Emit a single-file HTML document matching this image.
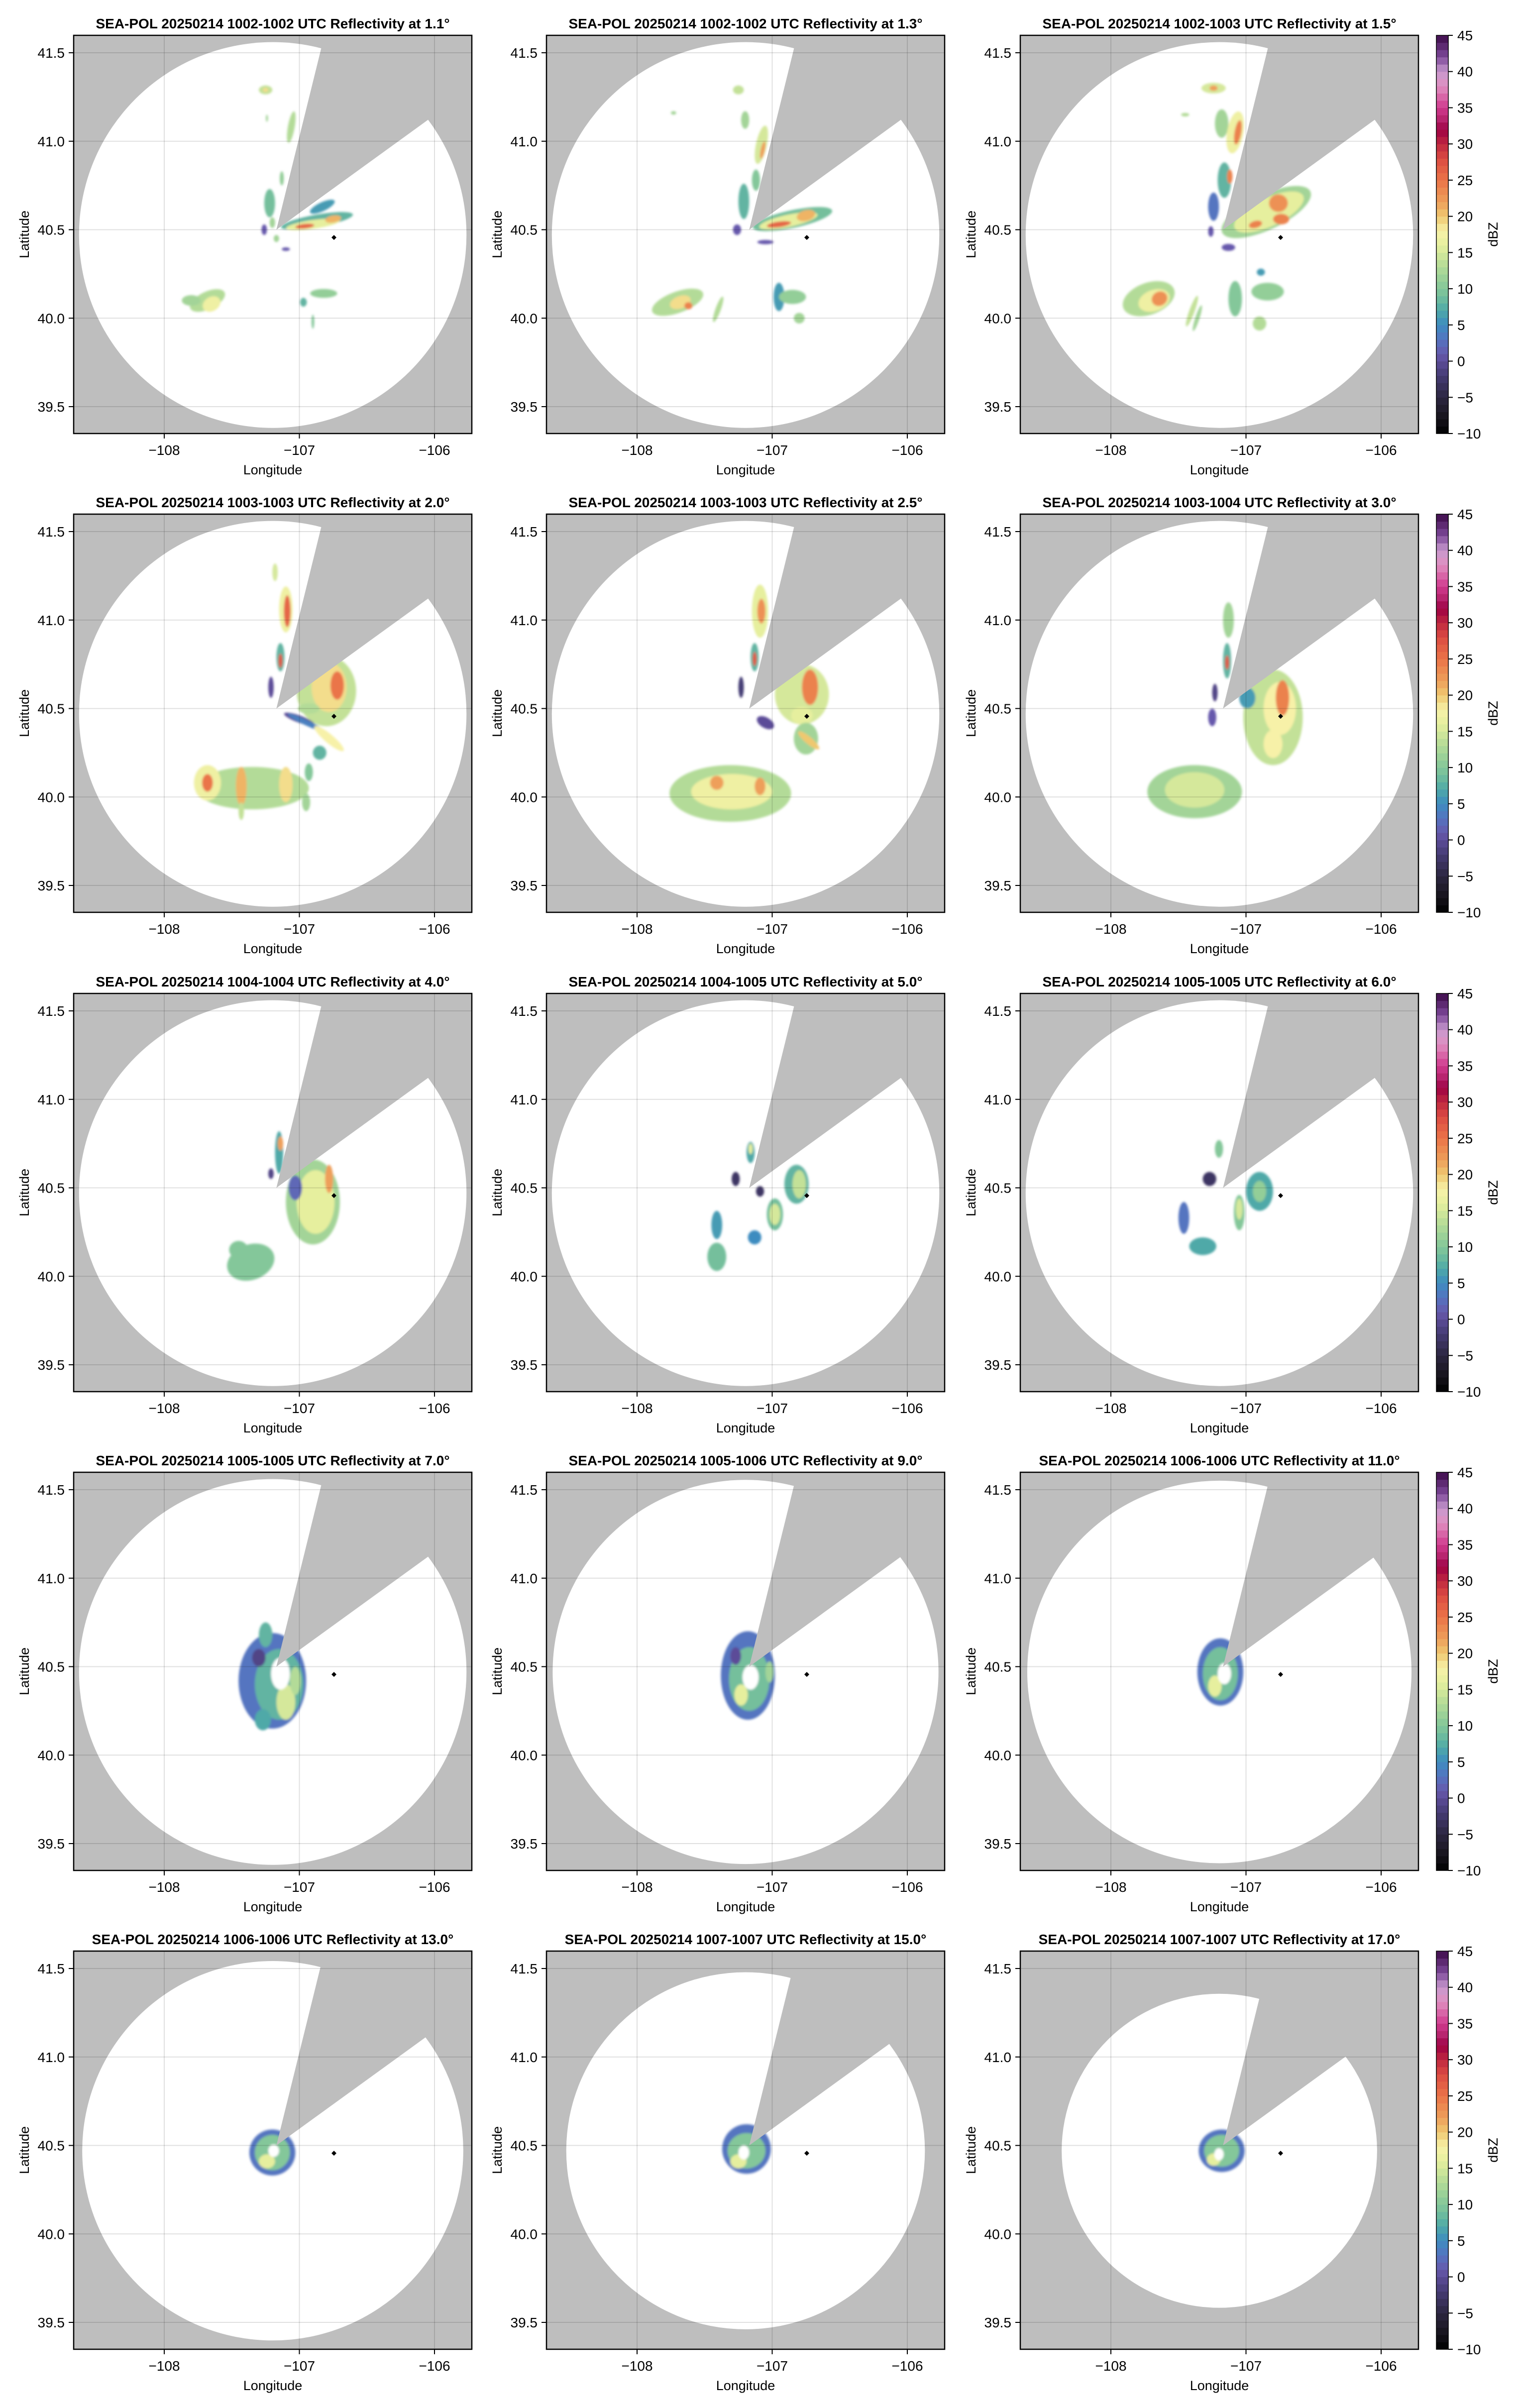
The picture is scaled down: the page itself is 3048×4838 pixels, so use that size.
<!DOCTYPE html>
<html><head><meta charset="utf-8"><style>
html,body{margin:0;padding:0;background:#fff}
svg{display:block}
text{font-family:"Liberation Sans",sans-serif;fill:#000}
</style></head><body>
<svg id="fig" xmlns="http://www.w3.org/2000/svg" width="3048" height="4838" viewBox="0 0 3048 4838">
<defs><filter id="soft" x="-20%" y="-20%" width="140%" height="140%"><feGaussianBlur stdDeviation="2.5"/></filter></defs>
</svg>
<script>
const elevations = ["1.1","1.3","1.5","2.0","2.5","3.0","4.0","5.0","6.0","7.0","9.0","11.0","13.0","15.0","17.0"];
const timeSpans = ["1002-1002","1002-1002","1002-1003","1003-1003","1003-1003","1003-1004","1004-1004","1004-1005","1005-1005","1005-1005","1005-1006","1006-1006","1006-1006","1007-1007","1007-1007"];
const rangesKm = [121,121,121,121,121,121,121,121,121,121,120.5,120,119,112,98.5];
const lonTicks = [-108,-107,-106];
const latTicks = [39.5,40.0,40.5,41.0,41.5];
const cbTicks = [-10,-5,0,5,10,15,20,25,30,35,40,45];
const radarSite = [-107.17,40.5];
const rangeCenter = [-107.197,40.47];
const blockEdge1 = [-106.84,41.52];
const blockEdge2 = [-106.05,41.12];
const markerPt = [-106.744,40.456];
// echo blobs: [lon, lat, rxDeg, ryDeg, rotation, dBZ]  (dBZ null = empty hole)
const echoes = [
 [[-107.25,41.29,.05,.025,0,14],[-107.25,41.29,.02,.012,0,19],[-107.24,41.13,.008,.02,0,12],[-107.06,41.08,.025,.09,10,13],[-107.13,40.79,.015,.04,0,11],[-107.22,40.65,.04,.08,0,9],[-107.2,40.54,.02,.03,0,12],[-107.26,40.5,.02,.03,0,1],[-107.1,40.39,.03,.01,0,1],[-107.17,40.45,.02,.02,0,12],[-106.87,40.55,.27,.035,-10,8],[-106.9,40.53,.2,.025,-8,16],[-106.96,40.52,.07,.013,-6,26],[-106.75,40.56,.06,.02,-10,21],[-106.83,40.63,.1,.025,-25,6],[-107.68,40.1,.14,.05,-25,13],[-107.65,40.08,.07,.04,-30,17],[-107.8,40.1,.07,.03,0,12],[-106.82,40.14,.1,.025,0,11],[-106.97,40.09,.025,.025,0,8],[-106.9,39.98,.01,.04,0,10]],
 [[-107.25,41.29,.04,.025,0,14],[-107.73,41.16,.02,.01,0,12],[-107.2,41.12,.03,.05,0,12],[-107.08,40.98,.04,.11,12,15],[-107.07,40.95,.015,.05,12,22],[-107.12,40.78,.03,.06,0,10],[-107.21,40.66,.04,.1,0,8],[-107.26,40.5,.03,.03,0,1],[-106.85,40.56,.3,.05,-12,9],[-106.88,40.55,.22,.035,-12,16],[-106.95,40.53,.09,.016,-8,26],[-106.75,40.58,.07,.03,-15,21],[-107.05,40.43,.06,.012,0,1],[-107.7,40.09,.2,.06,-20,13],[-107.68,40.09,.08,.035,-20,19],[-107.62,40.07,.03,.02,0,24],[-107.4,40.05,.1,.015,-70,13],[-106.95,40.12,.04,.08,0,6],[-106.85,40.12,.1,.04,0,11],[-106.8,40.0,.04,.03,0,12]],
 [[-107.24,41.3,.09,.03,0,15],[-107.24,41.3,.03,.015,0,22],[-107.45,41.15,.03,.01,0,13],[-107.18,41.1,.05,.08,0,12],[-107.08,41.05,.06,.12,10,17],[-107.06,41.05,.025,.07,10,24],[-107.16,40.78,.05,.1,0,8],[-107.12,40.8,.02,.04,0,24],[-107.24,40.63,.04,.08,0,3],[-106.85,40.6,.36,.1,-25,12],[-106.83,40.6,.28,.08,-25,16],[-106.76,40.65,.07,.05,0,23],[-106.74,40.56,.06,.03,0,24],[-106.93,40.53,.05,.02,-15,24],[-107.26,40.49,.02,.03,0,1],[-107.13,40.4,.05,.02,0,1],[-107.72,40.11,.2,.09,-20,13],[-107.68,40.1,.12,.06,-20,17],[-107.64,40.11,.06,.04,-30,23],[-107.4,40.04,.12,.015,-70,14],[-107.36,40.0,.1,.012,-72,12],[-107.08,40.11,.05,.1,0,10],[-106.84,40.15,.12,.05,0,11],[-106.9,39.97,.05,.04,0,13],[-106.89,40.26,.03,.02,0,6]],
 [[-107.18,41.27,.02,.05,0,15],[-107.1,41.06,.05,.13,0,17],[-107.09,41.05,.025,.09,0,26],[-107.14,40.79,.03,.08,0,8],[-107.14,40.77,.015,.04,0,27],[-107.21,40.62,.02,.06,0,0],[-106.8,40.6,.22,.2,0,14],[-106.78,40.62,.13,.14,0,19],[-106.72,40.63,.05,.08,0,25],[-106.93,40.5,.08,.03,0,13],[-107.0,40.44,.12,.02,20,0],[-106.95,40.42,.15,.015,25,4],[-106.78,40.33,.14,.025,40,18],[-106.85,40.25,.05,.04,0,8],[-107.35,40.05,.42,.12,0,13],[-107.68,40.08,.1,.1,0,17],[-107.68,40.08,.04,.05,0,25],[-107.43,40.06,.04,.11,0,21],[-107.1,40.07,.05,.1,0,19],[-106.93,40.14,.03,.05,0,10],[-106.95,39.97,.03,.05,0,12],[-107.43,39.92,.02,.05,0,14]],
 [[-107.09,41.05,.06,.15,0,16],[-107.08,41.05,.03,.07,0,23],[-107.13,40.79,.03,.08,0,8],[-107.13,40.78,.015,.04,0,27],[-107.23,40.62,.02,.06,0,-2],[-106.78,40.58,.2,.17,0,15],[-106.72,40.62,.06,.1,0,24],[-106.78,40.46,.08,.05,0,16],[-107.05,40.42,.07,.03,30,0],[-106.75,40.33,.09,.09,0,12],[-106.73,40.32,.1,.02,40,20],[-107.31,40.02,.45,.16,0,13],[-107.3,40.03,.3,.1,0,17],[-107.41,40.08,.05,.04,0,22],[-107.09,40.06,.04,.05,0,22]],
 [[-107.13,41.0,.04,.1,0,12],[-107.14,40.77,.03,.1,0,8],[-107.14,40.76,.015,.04,0,27],[-107.23,40.59,.02,.05,0,-1],[-106.8,40.45,.22,.27,0,14],[-106.75,40.5,.12,.15,0,18],[-106.73,40.56,.05,.1,0,24],[-106.99,40.56,.06,.06,0,6],[-106.8,40.3,.07,.08,0,18],[-107.25,40.45,.03,.05,0,1],[-107.38,40.03,.35,.15,0,12],[-107.38,40.04,.22,.1,0,15]],
 [[-107.15,40.7,.03,.12,0,7],[-107.14,40.75,.02,.04,0,22],[-107.21,40.58,.02,.03,0,-1],[-106.9,40.42,.2,.24,0,12],[-106.88,40.42,.14,.18,0,16],[-106.78,40.55,.03,.08,0,22],[-107.03,40.5,.05,.07,0,2],[-107.36,40.08,.18,.1,-20,10],[-107.45,40.15,.07,.05,0,10]],
 [[-107.16,40.7,.03,.06,0,7],[-107.16,40.72,.015,.03,0,16],[-107.27,40.55,.03,.04,0,-3],[-107.09,40.48,.03,.03,0,-3],[-106.82,40.52,.09,.11,0,8],[-106.8,40.52,.05,.08,0,14],[-106.98,40.35,.06,.09,0,9],[-106.98,40.35,.04,.06,0,15],[-107.41,40.29,.04,.08,0,6],[-107.41,40.11,.07,.08,0,9],[-107.13,40.22,.05,.04,0,5]],
 [[-107.2,40.72,.03,.05,0,10],[-107.27,40.55,.05,.04,0,-3],[-106.9,40.48,.1,.11,0,7],[-106.9,40.48,.05,.06,0,11],[-107.05,40.36,.04,.1,0,10],[-107.05,40.38,.025,.06,0,15],[-107.46,40.33,.04,.09,0,3],[-107.32,40.17,.1,.05,0,7]],
 [[-107.2,40.42,.25,.27,0,3],[-107.15,40.4,.18,.2,0,8],[-107.1,40.3,.07,.1,0,15],[-107.03,40.42,.04,.08,0,13],[-107.27,40.2,.06,.06,0,7],[-107.25,40.68,.05,.07,0,8],[-107.3,40.55,.05,.05,0,-1],[-107.14,40.46,.07,.09,0,null]],
 [[-107.18,40.45,.2,.25,0,3],[-107.17,40.43,.15,.18,0,9],[-107.23,40.34,.05,.06,0,16],[-107.02,40.47,.03,.06,0,12],[-107.27,40.56,.04,.05,0,0],[-107.16,40.44,.06,.07,0,null]],
 [[-107.19,40.47,.17,.19,0,3],[-107.19,40.46,.13,.15,0,9],[-107.23,40.39,.05,.06,0,16],[-107.16,40.46,.05,.06,0,null]],
 [[-107.2,40.46,.17,.13,0,3],[-107.2,40.46,.13,.1,0,10],[-107.24,40.41,.06,.04,0,16],[-107.19,40.47,.04,.035,0,null]],
 [[-107.19,40.48,.18,.14,0,3],[-107.19,40.47,.14,.1,0,10],[-107.25,40.41,.06,.04,0,16],[-107.21,40.46,.04,.04,0,null]],
 [[-107.18,40.47,.17,.12,0,3],[-107.18,40.47,.13,.09,0,10],[-107.24,40.42,.05,.035,0,16],[-107.2,40.45,.035,.035,0,null]]
];
const cmapVals = [-10,-8,-5,-2,0,1,3,5,7,9,11,14,16,18,20,22,25,28,30,32,33,35,38,40,42,45];
const cmapCols = ["#000000","#15131a","#2c2640","#453c74","#5c4c98","#6659ac","#5574c0","#3e8cc0","#4fa9a8","#74bf9c","#93ce98","#c3e198","#e6ef9e","#f7f1a8","#efc870","#ee9f5a","#ea7448","#db4b42","#bf2840","#9e0044","#b01e64","#d03a8e","#e08fc0","#c89ace","#7e4a9a","#3d0a4a"];

const NS="http://www.w3.org/2000/svg";
const svg=document.getElementById('fig');
function mk(tag,attrs,parent){const e=document.createElementNS(NS,tag);for(const k in attrs)e.setAttribute(k,attrs[k]);(parent||svg).appendChild(e);return e;}
function hex(c){return [parseInt(c.substr(1,2),16),parseInt(c.substr(3,2),16),parseInt(c.substr(5,2),16)];}
function cmap(v){
  if(v<=cmapVals[0])return cmapCols[0];
  for(let i=1;i<cmapVals.length;i++){if(v<=cmapVals[i]){const t=(v-cmapVals[i-1])/(cmapVals[i]-cmapVals[i-1]);const a=hex(cmapCols[i-1]),b=hex(cmapCols[i]);return 'rgb('+a.map((x,j)=>Math.round(x+(b[j]-x)*t)).join(',')+')';}}
  return cmapCols[cmapCols.length-1];
}
const colLeft=[148,1098,2050], rowTop=[71,1033,1996,2958,3920], S=800;
const PXLON=271.5, PXLAT=355.5;

for(let p=0;p<15;p++){
  const r=Math.floor(p/3), c=p%3, L=colLeft[c], T=rowTop[r];
  const xOf=lon=>L+182+(lon+108)*PXLON;
  const yOf=lat=>T+35+(41.5-lat)*PXLAT;
  const g=mk('g',{});
  
  
  const cid='clip'+p;
  const cp=mk('clipPath',{id:cid},g);mk('rect',{x:L,y:T,width:S,height:S},cp);
  const title=mk('text',{x:L+S/2,y:T-14,'text-anchor':'middle','font-size':28,'font-weight':'bold'},g);
  title.textContent='SEA-POL 20250214 '+timeSpans[p]+' UTC Reflectivity at '+elevations[p]+'°';
  
  
  const plot=mk('g',{'clip-path':'url(#'+cid+')'},g);
  
  
  mk('rect',{x:L,y:T,width:S,height:S,fill:'#bebebe'},plot);
  const rng=mk('ellipse',{cx:xOf(rangeCenter[0]),cy:yOf(rangeCenter[1]),rx:rangesKm[p]/84.4*PXLON,ry:rangesKm[p]/111*PXLAT,fill:'#fff'},plot);
  
  
  const eg=mk('g',{filter:'url(#soft)'},plot);
  
  
  echoes[p].forEach(b=>{
    const cx=xOf(b[0]),cy=yOf(b[1]);
    const el=mk('ellipse',{cx:cx,cy:cy,rx:b[2]*PXLON,ry:b[3]*PXLAT,transform:'rotate('+b[4]+' '+cx+' '+cy+')',fill:b[5]===null?'#fff':cmap(b[5])},eg);
    
    
  });
  const ax=xOf(radarSite[0]),ay=yOf(radarSite[1]);
  const e1=[xOf(blockEdge1[0]),yOf(blockEdge1[1])],e2=[xOf(blockEdge2[0]),yOf(blockEdge2[1])];
  const f=4, q1=[ax+(e1[0]-ax)*f,ay+(e1[1]-ay)*f], q2=[ax+(e2[0]-ax)*f,ay+(e2[1]-ay)*f];
  const wedge=mk('polygon',{points:[[ax,ay],q1,[q2[0],q1[1]],q2].map(v=>v.join(',')).join(' '),fill:'#bebebe'},plot);
  
  
  lonTicks.forEach(t=>{const l=mk('line',{x1:xOf(t),x2:xOf(t),y1:T,y2:T+S,stroke:'rgba(0,0,0,0.12)','stroke-width':2},plot);});
  latTicks.forEach(t=>{const l=mk('line',{y1:yOf(t),y2:yOf(t),x1:L,x2:L+S,stroke:'rgba(0,0,0,0.12)','stroke-width':2},plot);});
  const mx=xOf(markerPt[0]),my=yOf(markerPt[1]);
  const mkr=mk('polygon',{points:`${mx},${my-5} ${mx+5},${my} ${mx},${my+5} ${mx-5},${my}`,fill:'#000'},plot);
  
  
  const fr=mk('rect',{x:L,y:T,width:S,height:S,fill:'none',stroke:'#000','stroke-width':2.5},g);
  
  
  lonTicks.forEach(t=>{
    mk('line',{x1:xOf(t),x2:xOf(t),y1:T+S,y2:T+S+10,stroke:'#000','stroke-width':2},g);
    const tx=mk('text',{x:xOf(t),y:T+S+43,'text-anchor':'middle','font-size':28},g);
    tx.textContent='\u2212'+Math.abs(t);
    
    
  });
  latTicks.forEach(t=>{
    mk('line',{x1:L-10,x2:L,y1:yOf(t),y2:yOf(t),stroke:'#000','stroke-width':2},g);
    const ty=mk('text',{x:L-18,y:yOf(t)+10,'text-anchor':'end','font-size':28},g);
    ty.textContent=t.toFixed(1);
    
    
  });
  const xl=mk('text',{x:L+S/2,y:T+S+82,'text-anchor':'middle','font-size':27},g);
  xl.textContent='Longitude';
  
  
  const yl=mk('text',{x:0,y:0,'text-anchor':'middle','font-size':27,transform:`translate(${L-90},${T+S/2}) rotate(-90)`},g);
  yl.textContent='Latitude';
  
  

  if(c===2){
    const cb=mk('g',{});
    
    
    const cx0=2886,cw=24,vmin=-10,vmax=45;
    const yv=v=>T+S-(v-vmin)/(vmax-vmin)*S;
    for(let v=vmin;v<vmax;v++){
      mk('rect',{x:cx0,y:yv(v+1),width:cw,height:yv(v)-yv(v+1)+0.6,fill:cmap(v+0.5)},cb);
    }
    mk('rect',{x:cx0,y:T,width:cw,height:S,fill:'none',stroke:'#000','stroke-width':1.5},cb);
    cbTicks.forEach(t=>{
      mk('line',{x1:cx0+cw,x2:cx0+cw+9,y1:yv(t),y2:yv(t),stroke:'#000','stroke-width':2},cb);
      const tl=mk('text',{x:cx0+cw+18,y:yv(t)+10,'font-size':28},cb);
      tl.textContent=(t<0?'\u2212':'')+Math.abs(t);
      
      
    });
    const cl=mk('text',{x:0,y:0,'text-anchor':'middle','font-size':27,transform:`translate(3009,${T+S/2}) rotate(-90)`},cb);
    cl.textContent='dBZ';
    
    
  }
}
</script>
</body></html>
